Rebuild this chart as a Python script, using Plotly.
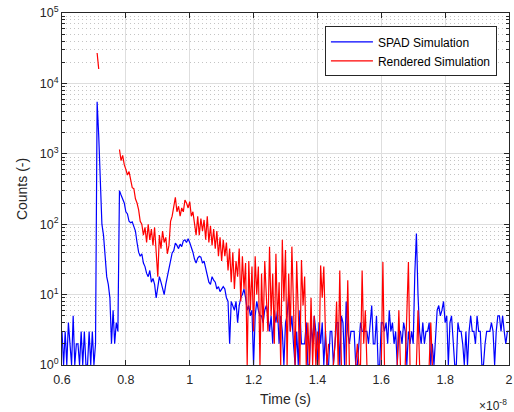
import plotly.graph_objects as go

# ---- data (counts per time bin) ----
t_start_s = 0.6e-8
bin_width_s = 0.005e-8

spad_counts = [
    3, 1, 3, 1, 4, 2, 1, 5, 1, 2, 2, 1, 3, 1, 3, 1, 1, 3, 1, 3, 1,
    2, 5500, 1800, 400, 100, 70, 30, 18, 14, 9, 2, 6, 2, 4, 3,
    300, 260, 230, 200, 150, 140, 110, 105, 108, 95, 80, 55, 40, 35, 38, 28, 25, 20, 18, 22,
    15, 17, 14, 9, 14, 18, 15, 12, 10, 14, 18, 22, 30, 39, 42, 54, 50, 45, 52, 48,
    58, 60, 55, 62, 55, 48, 40, 32, 28, 33, 35, 34, 28, 30, 24, 20, 15, 14, 18, 16,
    15, 12, 13, 11, 12, 13, 12, 9, 8, 2, 8, 7, 6, 8, 4, 7, 9, 10, 12, 9,
    6, 7, 5, 6, 1, 5, 8, 6, 5, 5, 4, 6, 7, 5, 3, 5, 2, 6, 4, 6,
    2, 5, 3, 1, 4, 5, 10, 3, 5, 2, 1, 3, 1, 6, 2, 2, 2, 4, 1, 1,
    4, 2, 5, 3, 1, 4, 2, 4, 1, 3, 1, 1, 3, 3, 1, 2, 4, 4, 1, 5,
    4, 1, 8, 3, 2, 3, 3, 3, 1, 1, 2, 4, 3, 3, 3, 3, 2, 4, 7, 2,
    2, 5, 1, 1, 4, 4, 3, 4, 2, 6, 3, 4, 2, 3, 1, 3, 3, 2, 4, 3,
    1, 3, 2, 3, 2, 20, 74, 10, 3, 2, 4, 2, 3, 3, 4, 1, 2, 1, 3, 6,
    7, 5, 6, 8, 4, 5, 1, 4, 5, 2, 1, 1, 4, 3, 3, 2, 1, 3, 1, 3,
    5, 3, 3, 2, 5, 3, 3, 1, 1, 2, 3, 3, 3, 4, 3, 1, 3, 5, 5, 3,
    5, 3, 2, 3, 3,
]

rendered_counts = (
    [0] * 22 + [27000, 16000] + [0] * 12 + [
        1150, 800, 950, 700, 600, 500, 560, 420, 330, 320, 230, 200, 160, 110, 100, 70, 90, 55, 100, 60,
        85, 50, 90, 40, 18, 70, 45, 80, 55, 65, 38, 50, 110, 130, 170, 240, 150, 180, 130, 170,
        150, 220, 200, 170, 210, 130, 150, 95, 70, 130, 70, 120, 80, 115, 60, 130, 55, 95, 50, 85,
        45, 80, 35, 65, 30, 60, 35, 55, 22, 45, 15, 40, 12, 30, 18, 45, 8, 35, 12, 28,
        1, 30, 6, 25, 3, 35, 10, 25, 1, 20, 3, 30, 8, 3, 48, 5, 20, 2, 38, 4,
        15, 1, 60, 8, 43, 1, 20, 3, 48, 6, 1, 30, 4, 1, 31, 7, 18, 1, 4, 1,
        9, 1, 5, 1, 3, 1, 26, 9, 25, 3, 1, 2, 0, 0, 1, 2, 8, 1, 22, 1,
        0, 0, 1, 16, 1, 0, 0, 0, 1, 2, 1, 1, 22, 2, 6, 1, 0, 0, 0, 0,
        0, 0, 0, 0, 1, 29, 1, 0, 0, 0, 0, 0, 0, 0, 1, 6, 1, 0, 0, 1,
        7, 29, 1, 0, 0, 0, 1, 6, 1, 0, 0, 0, 0, 0, 1, 4, 1, 0, 0, 0,
    ] + [0] * 45
)

x_tick_vals = [0.6e-8, 0.8e-8, 1.0e-8, 1.2e-8, 1.4e-8, 1.6e-8, 1.8e-8, 2.0e-8]
x_tick_text = ["0.6", "0.8", "1", "1.2", "1.4", "1.6", "1.8", "2"]
y_tick_vals = [1, 10, 100, 1000, 10000, 100000]
y_tick_text = ["10<sup>0</sup>", "10<sup>1</sup>", "10<sup>2</sup>",
               "10<sup>3</sup>", "10<sup>4</sup>", "10<sup>5</sup>"]

# ---- build ----
time_s = [t_start_s + k * bin_width_s for k in range(len(spad_counts))]
spad_plot = [v if v > 0 else None for v in spad_counts]
rend_plot = [v if v > 0 else None for v in rendered_counts]
minor_vals = [m * 10 ** d for d in range(5) for m in range(2, 10)]

AX = "#262626"
FONT = "Liberation Sans, Arial, Helvetica, sans-serif"

fig = go.Figure()
fig.add_trace(go.Scatter(x=time_s, y=spad_plot, mode="lines", name="SPAD Simulation",
                         line=dict(color="#0000FF", width=1.2), connectgaps=False))
fig.add_trace(go.Scatter(x=time_s, y=rend_plot, mode="lines", name="Rendered Simulation",
                         line=dict(color="#FF0000", width=1.2), connectgaps=False))

fig.update_layout(
    width=514, height=412,
    margin=dict(l=62, r=5, t=13, b=47, autoexpand=False),
    paper_bgcolor="white", plot_bgcolor="white",
    font=dict(family=FONT, size=12.5, color=AX),
    showlegend=True,
    legend=dict(x=0.973, xanchor="right", y=0.962, yanchor="top",
                bgcolor="white", bordercolor=AX, borderwidth=1,
                font=dict(size=12, color="#000000"), tracegroupgap=0,
                itemwidth=42),
    xaxis=dict(
        range=[0.6e-8, 2.0e-8], tickmode="array", tickvals=x_tick_vals, ticktext=x_tick_text,
        ticks="inside", ticklen=5, tickcolor=AX, mirror="allticks", automargin=False,
        ticklabelstandoff=3,
        showline=True, linecolor=AX, linewidth=1,
        showgrid=True, gridcolor="#dedede", gridwidth=1, zeroline=False,
        title=dict(text="Time (s)", font=dict(size=14, color=AX), standoff=8),
    ),
    yaxis=dict(
        type="log", range=[0, 5], tickmode="array", tickvals=y_tick_vals, ticktext=y_tick_text,
        ticks="inside", ticklen=5, tickcolor=AX, mirror="allticks", automargin=False,
        showline=True, linecolor=AX, linewidth=1,
        showgrid=True, gridcolor="#dedede", gridwidth=1, zeroline=False,
        minor=dict(tickmode="array", tickvals=minor_vals, ticks="inside", ticklen=3,
                   tickcolor=AX, showgrid=True, gridcolor="#c4c4c4",
                   griddash="1px,3px", gridwidth=1),
        title=dict(text="Counts (-)", font=dict(size=14, color=AX), standoff=8),
    ),
    annotations=[dict(text="\u00d710<sup>-8</sup>", xref="paper", yref="paper",
                      x=1.0, y=-0.115, xanchor="right", yanchor="middle",
                      showarrow=False, font=dict(size=12, color=AX))],
)

fig.write_html(
    "out.html",
    config={"displayModeBar": False},
    post_script="document.body.style.margin='0';document.body.style.overflow='hidden';",
)
